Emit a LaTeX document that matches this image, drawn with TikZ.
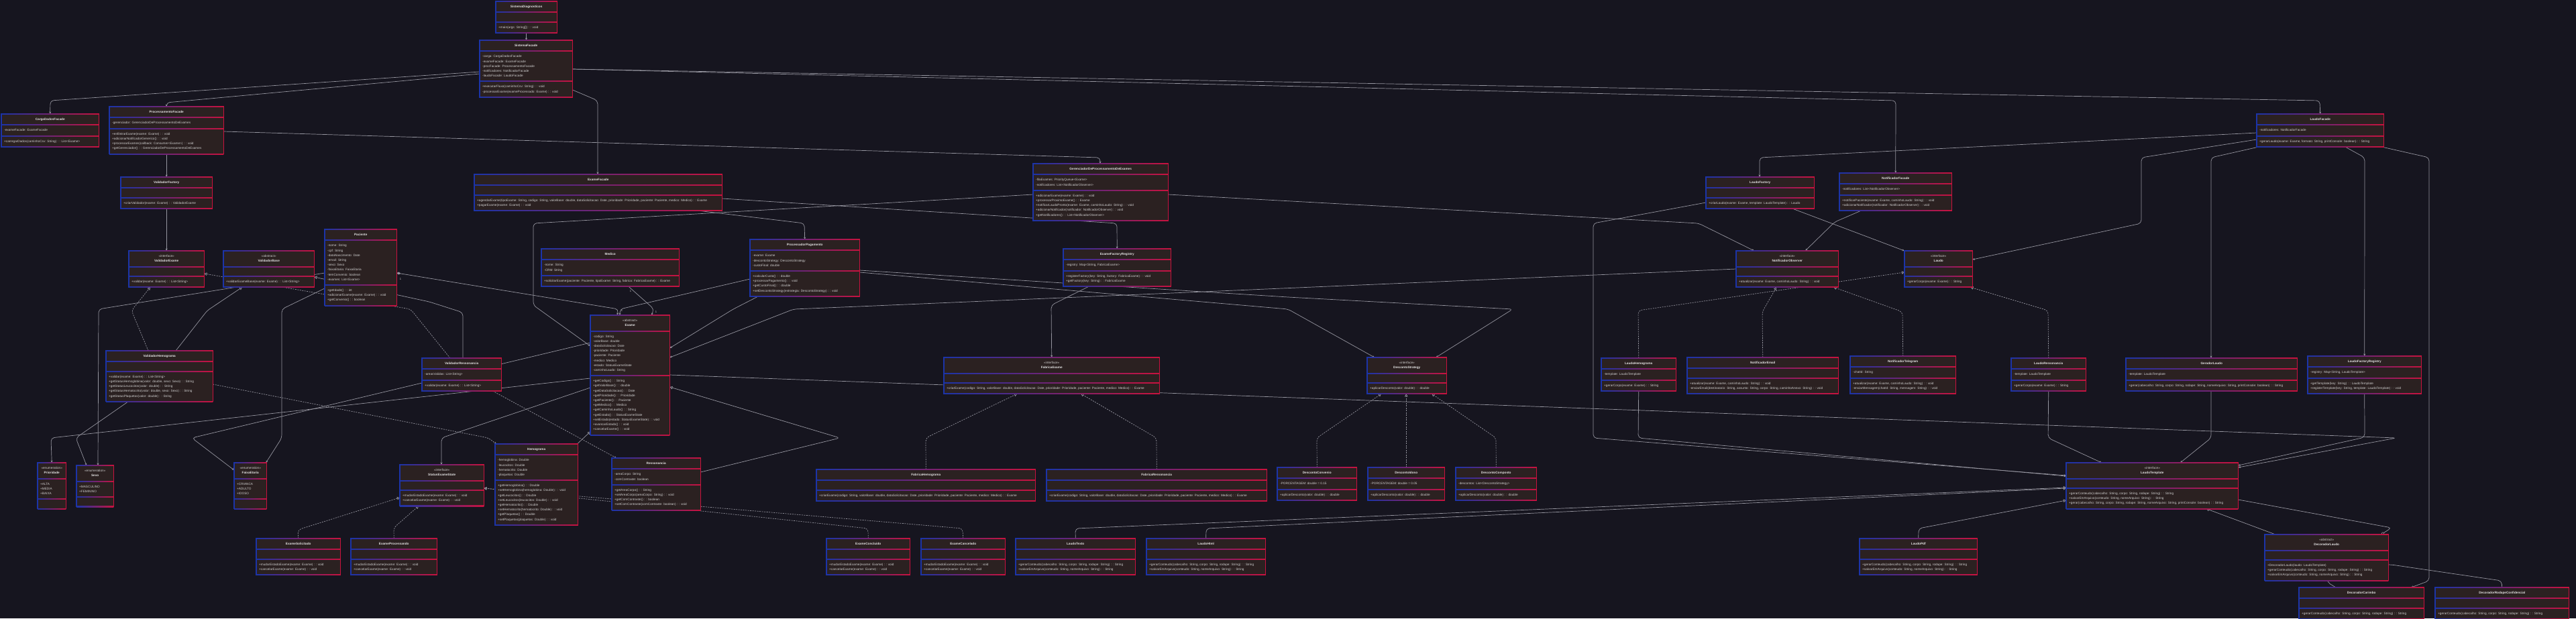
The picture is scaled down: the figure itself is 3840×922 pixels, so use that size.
\documentclass[tikz,border=0pt]{standalone}
\usepackage{fontspec}
\setmainfont{Liberation Sans}
\usetikzlibrary{positioning,arrows.meta,shapes.multipart,backgrounds}
\definecolor{bgc}{RGB}{22,21,31}
\definecolor{boxc}{RGB}{43,33,33}
\definecolor{bordl}{RGB}{28,52,168}
\definecolor{bordr}{RGB}{200,18,62}
\definecolor{titlec}{RGB}{228,228,228}
\definecolor{memc}{RGB}{206,206,206}
\definecolor{edgec}{RGB}{150,150,160}
\newcommand{\clsfont}{\fontsize{4.7}{7.2}\selectfont}
\newcommand{\ctitle}[1]{\strut\textcolor{titlec}{\textbf{#1}}}
\newcommand{\cstereo}[2]{\begin{tabular}{@{}c@{}}«#1»\\\textcolor{titlec}{\textbf{#2}}\end{tabular}}
\tikzset{
  cls/.style={rectangle split, rectangle split parts=3,
    rectangle split part align={center,left,left}, align=left,
    fill=boxc, text=memc, font=\clsfont, anchor=north west,
    inner xsep=4pt, inner ysep=4.3pt},
  link/.style={draw=edgec, line width=0.7pt, rounded corners=5pt},
  assoc/.style={link, -{Stealth[length=3.5pt,width=3pt]}},
  dep/.style={assoc, dash pattern=on 2pt off 1.5pt},
  real/.style={link, dash pattern=on 2pt off 1.5pt, -{Triangle[open,length=4pt,width=4.5pt]}},
  inh/.style={link, -{Triangle[open,length=4pt,width=4.5pt]}},
  mult/.style={font=\fontsize{4}{5}\selectfont, text=memc, inner sep=0pt}
}

\begin{document}
\begin{tikzpicture}[x=1pt,y=-1pt]
\useasboundingbox (0,0) rectangle (3840,922);

% top rows
\node[cls, minimum width=91pt] (sisDiag) at (739,2) {\ctitle{SistemaDiagnosticos}\nodepart{two}\nodepart{three}\strut +main(args: String[]) : : void};
\node[cls, minimum width=138pt] (sisFacade) at (715,60) {\ctitle{SistemaFacade}\nodepart{two}\strut -carga: CargaDadosFacade\\\strut -exameFacade: ExameFacade\\\strut -procFacade: ProcessamentoFacade\\\strut -notificadores: NotificadorFacade\\\strut -laudoFacade: LaudoFacade\nodepart{three}\strut +executarFluxo(caminhoCsv: String) : : void\\\strut -processarExame(exameProcessado: Exame) : : void};
\node[cls, minimum width=145pt] (carga) at (2,170) {\ctitle{CargaDadosFacade}\nodepart{two}\strut -exameFacade: ExameFacade\nodepart{three}\strut +carregarDados(caminhoCsv: String) : : List<Exame>};
\node[cls, minimum width=170pt] (procFacade) at (163,159) {\ctitle{ProcessamentoFacade}\nodepart{two}\strut -gerenciador: GerenciadorDeProcessamentoDeExames\nodepart{three}\strut +enfileirarExame(exame: Exame) : : void\\\strut +adicionarNotificadorGenerico() : : void\\\strut +processarExames(callback: Consumer<Exame>) : : void\\\strut +getGerenciador() : : GerenciadorDeProcessamentoDeExames};
\node[cls, minimum width=136pt] (valFactory) at (180,264) {\ctitle{ValidadorFactory}\nodepart{two}\nodepart{three}\strut +criarValidador(exame: Exame) : : ValidadorExame};
\node[cls, minimum width=112pt] (valExame) at (192,374) {\cstereo{interface}{ValidadorExame}\nodepart{two}\nodepart{three}\strut +validar(exame: Exame) : : List<String>};
\node[cls, minimum width=135pt] (valBase) at (333,374) {\cstereo{abstract}{ValidadorBase}\nodepart{two}\nodepart{three}\strut +validarExameBase(exame: Exame) : : List<String>};
\node[cls, minimum width=107pt] (paciente) at (484,342) {\ctitle{Paciente}\nodepart{two}\strut -nome: String\\\strut -cpf: String\\\strut -dataNascimento: Date\\\strut -email: String\\\strut -sexo: Sexo\\\strut -faixaEtaria: FaixaEtaria\\\strut -temConvenio: boolean\\\strut -exames: List<Exame>\nodepart{three}\strut +getIdade() : : int\\\strut +adicionarExame(exame: Exame) : : void\\\strut +getConvenio() : : boolean};
\node[cls, minimum width=369pt] (exameFacade) at (707,260) {\ctitle{ExameFacade}\nodepart{two}\nodepart{three}\strut +agendarExame(tipoExame: String, codigo: String, valorBase: double, dataSolicitacao: Date, prioridade: Prioridade, paciente: Paciente, medico: Medico) : : Exame\\\strut +pagarExame(exame: Exame) : : void};
\node[cls, minimum width=205pt] (medico) at (807,371) {\ctitle{Medico}\nodepart{two}\strut -nome: String\\\strut -CRM: String\nodepart{three}\strut +solicitarExame(paciente: Paciente, tipoExame: String, fabrica: FabricaExame) : : Exame};
\node[cls, minimum width=163pt] (procPag) at (1118,357) {\ctitle{ProcessadorPagamento}\nodepart{two}\strut -exame: Exame\\\strut -descontoStrategy: DescontoStrategy\\\strut -custoFinal: double\nodepart{three}\strut +calcularCusto() : : double\\\strut +processarPagamento() : : void\\\strut +getCustoFinal() : : double\\\strut +setDescontoStrategy(estrategia: DescontoStrategy) : : void};
\node[cls, minimum width=201pt] (gerenc) at (1540,244) {\ctitle{GerenciadorDeProcessamentoDeExames}\nodepart{two}\strut -filaExames: PriorityQueue<Exame>\\\strut -notificadores: List<NotificadorObserver>\nodepart{three}\strut +adicionarExame(exame: Exame) : : void\\\strut +processarProximoExame() : : Exame\\\strut +notificarLaudoPronto(exame: Exame, caminhoLaudo: String) : : void\\\strut +adicionarNotificador(notificador: NotificadorObserver) : : void\\\strut +getNotificadores() : : List<NotificadorObserver>};
\node[cls, minimum width=160pt] (exameFReg) at (1585,371) {\ctitle{ExameFactoryRegistry}\nodepart{two}\strut -registry: Map<String, FabricaExame>\nodepart{three}\strut +registerFactory(key: String, factory: FabricaExame) : : void\\\strut +getFactory(key: String) : : FabricaExame};
\node[cls, minimum width=161pt] (laudoFactory) at (2543,264) {\ctitle{LaudoFactory}\nodepart{two}\nodepart{three}\strut +criarLaudo(exame: Exame, template: LaudoTemplate) : : Laudo};
\node[cls, minimum width=167pt] (notifFacade) at (2742,258) {\ctitle{NotificadorFacade}\nodepart{two}\strut -notificadores: List<NotificadorObserver>\nodepart{three}\strut +notificarPaciente(exame: Exame, caminhoLaudo: String) : : void\\\strut +adicionarNotificador(notificador: NotificadorObserver) : : void};
\node[cls, minimum width=152pt] (notifObs) at (2588,374) {\cstereo{interface}{NotificadorObserver}\nodepart{two}\nodepart{three}\strut +atualizar(exame: Exame, caminhoLaudo: String) : : void};
\node[cls, minimum width=101pt] (laudo) at (2839,374) {\cstereo{interface}{Laudo}\nodepart{two}\nodepart{three}\strut +gerarCorpo(exame: Exame) : : String};
\node[cls, minimum width=189pt] (laudoFacade) at (3364,170) {\ctitle{LaudoFacade}\nodepart{two}\strut -notificadores: NotificadorFacade\nodepart{three}\strut +gerarLaudo(exame: Exame, formato: String, printConsole: boolean) : : String};

% middle row
\node[cls, minimum width=159pt] (valHemo) at (158,523) {\ctitle{ValidadorHemograma}\nodepart{two}\nodepart{three}\strut +validar(exame: Exame) : : List<String>\\\strut +getStatusHemoglobina(valor: double, sexo: Sexo) : : String\\\strut +getStatusLeucocitos(valor: double) : : String\\\strut +getStatusHematocrito(valor: double, sexo: Sexo) : : String\\\strut +getStatusPlaquetas(valor: double) : : String};
\node[cls, minimum width=118pt] (valResso) at (629,534) {\ctitle{ValidadorRessonancia}\nodepart{two}\strut -areasValidas: List<String>\nodepart{three}\strut +validar(exame: Exame) : : List<String>};
\node[cls, minimum width=118pt] (exame) at (880,470) {\cstereo{abstract}{Exame}\nodepart{two}\strut -codigo: String\\\strut -valorBase: double\\\strut -dataSolicitacao: Date\\\strut -prioridade: Prioridade\\\strut -paciente: Paciente\\\strut -medico: Medico\\\strut -estado: StatusExameState\\\strut -caminhoLaudo: String\nodepart{three}\strut +getCodigo() : : String\\\strut +getValorBase() : : double\\\strut +getDataSolicitacao() : : Date\\\strut +getPrioridade() : : Prioridade\\\strut +getPaciente() : : Paciente\\\strut +getMedico() : : Medico\\\strut +getCaminhoLaudo() : : String\\\strut +getEstado() : : StatusExameState\\\strut +setEstado(estado: StatusExameState) : : void\\\strut +avancarEstado() : : void\\\strut +cancelarExame() : : void};
\node[cls, minimum width=321pt] (fabExame) at (1407,533) {\cstereo{interface}{FabricaExame}\nodepart{two}\nodepart{three}\strut +criarExame(codigo: String, valorBase: double, dataSolicitacao: Date, prioridade: Prioridade, paciente: Paciente, medico: Medico) : : Exame};
\node[cls, minimum width=118pt] (descStrat) at (2038,533) {\cstereo{interface}{DescontoStrategy}\nodepart{two}\nodepart{three}\strut +aplicarDesconto(valor: double) : : double};
\node[cls, minimum width=111pt] (laudoHemo) at (2387,534) {\ctitle{LaudoHemograma}\nodepart{two}\strut -template: LaudoTemplate\nodepart{three}\strut +gerarCorpo(exame: Exame) : : String};
\node[cls, minimum width=225pt] (notifEmail) at (2515,533) {\ctitle{NotificadorEmail}\nodepart{two}\nodepart{three}\strut +atualizar(exame: Exame, caminhoLaudo: String) : : void\\\strut -enviarEmail(destinatario: String, assunto: String, corpo: String, caminhoAnexo: String) : : void};
\node[cls, minimum width=157pt] (notifTele) at (2758,531) {\ctitle{NotificadorTelegram}\nodepart{two}\strut -chatId: String\nodepart{three}\strut +atualizar(exame: Exame, caminhoLaudo: String) : : void\\\strut -enviarMensagem(chatId: String, mensagem: String) : : void};
\node[cls, minimum width=111pt] (laudoResso) at (2998,534) {\ctitle{LaudoRessonancia}\nodepart{two}\strut -template: LaudoTemplate\nodepart{three}\strut +gerarCorpo(exame: Exame) : : String};
\node[cls, minimum width=255pt] (geradorLaudo) at (3169,534) {\ctitle{GeradorLaudo}\nodepart{two}\strut -template: LaudoTemplate\nodepart{three}\strut +gerar(cabecalho: String, corpo: String, rodape: String, nomeArquivo: String, printConsole: boolean) : : String};
\node[cls, minimum width=169pt] (laudoFReg) at (3440,531) {\ctitle{LaudoFactoryRegistry}\nodepart{two}\strut -registry: Map<String, LaudoTemplate>\nodepart{three}\strut +getTemplate(key: String) : : LaudoTemplate\\\strut +registerTemplate(key: String, template: LaudoTemplate) : : void};

% lower rows
\node[cls, minimum width=42pt] (prioridade) at (56,690) {\cstereo{enumeration}{Prioridade}\nodepart{two}\strut +ALTA\\\strut +MEDIA\\\strut +BAIXA\nodepart{three}};
\node[cls, minimum width=55pt] (sexo) at (114,694) {\cstereo{enumeration}{Sexo}\nodepart{two}\strut +MASCULINO\\\strut +FEMININO\nodepart{three}};
\node[cls, minimum width=48pt] (faixa) at (349,690) {\cstereo{enumeration}{FaixaEtaria}\nodepart{two}\strut +CRIANCA\\\strut +ADULTO\\\strut +IDOSO\nodepart{three}};
\node[cls, minimum width=125pt] (statusES) at (596,693) {\cstereo{interface}{StatusExameState}\nodepart{two}\nodepart{three}\strut +mudarEstadoExame(exame: Exame) : : void\\\strut +cancelarExame(exame: Exame) : : void};
\node[cls, minimum width=123pt] (hemograma) at (738,662) {\ctitle{Hemograma}\nodepart{two}\strut -hemoglobina: Double\\\strut -leucocitos: Double\\\strut -hematocrito: Double\\\strut -plaquetas: Double\nodepart{three}\strut +getHemoglobina() : : Double\\\strut +setHemoglobina(hemoglobina: Double) : : void\\\strut +getLeucocitos() : : Double\\\strut +setLeucocitos(leucocitos: Double) : : void\\\strut +getHematocrito() : : Double\\\strut +setHematocrito(hematocrito: Double) : : void\\\strut +getPlaquetas() : : Double\\\strut +setPlaquetas(plaquetas: Double) : : void};
\node[cls, minimum width=132pt] (ressonancia) at (912,683) {\ctitle{Ressonancia}\nodepart{two}\strut -areaCorpo: String\\\strut -comContraste: boolean\nodepart{three}\strut +getAreaCorpo() : : String\\\strut +setAreaCorpo(areaCorpo: String) : : void\\\strut +getComContraste() : : boolean\\\strut +setComContraste(comContraste: boolean) : : void};
\node[cls, minimum width=326pt] (fabHemo) at (1217,700) {\ctitle{FabricaHemograma}\nodepart{two}\nodepart{three}\strut +criarExame(codigo: String, valorBase: double, dataSolicitacao: Date, prioridade: Prioridade, paciente: Paciente, medico: Medico) : : Exame};
\node[cls, minimum width=328pt] (fabResso) at (1560,700) {\ctitle{FabricaRessonancia}\nodepart{two}\nodepart{three}\strut +criarExame(codigo: String, valorBase: double, dataSolicitacao: Date, prioridade: Prioridade, paciente: Paciente, medico: Medico) : : Exame};
\node[cls, minimum width=118pt] (descConv) at (1904,697) {\ctitle{DescontoConvenio}\nodepart{two}\strut -PORCENTAGEM: double = 0.15\nodepart{three}\strut +aplicarDesconto(valor: double) : : double};
\node[cls, minimum width=114pt] (descIdoso) at (2039,697) {\ctitle{DescontoIdoso}\nodepart{two}\strut -PORCENTAGEM: double = 0.05\nodepart{three}\strut +aplicarDesconto(valor: double) : : double};
\node[cls, minimum width=120pt] (descComp) at (2170,697) {\ctitle{DescontoComposto}\nodepart{two}\strut -descontos: List<DescontoStrategy>\nodepart{three}\strut +aplicarDesconto(valor: double) : : double};
\node[cls, minimum width=256pt] (laudoTemplate) at (3080,690) {\cstereo{interface}{LaudoTemplate}\nodepart{two}\nodepart{three}\strut +gerarConteudo(cabecalho: String, corpo: String, rodape: String) : : String\\\strut +salvarEmArquivo(conteudo: String, nomeArquivo: String) : : String\\\strut +gerar(cabecalho: String, corpo: String, rodape: String, nomeArquivo: String, printConsole: boolean) : : String};
\node[cls, minimum width=125pt] (exSolic) at (382,803) {\ctitle{ExameSolicitado}\nodepart{two}\nodepart{three}\strut +mudarEstadoExame(exame: Exame) : : void\\\strut +cancelarExame(exame: Exame) : : void};
\node[cls, minimum width=128pt] (exProc) at (523,803) {\ctitle{ExameProcessando}\nodepart{two}\nodepart{three}\strut +mudarEstadoExame(exame: Exame) : : void\\\strut +cancelarExame(exame: Exame) : : void};
\node[cls, minimum width=124pt] (exConcl) at (1232,803) {\ctitle{ExameConcluido}\nodepart{two}\nodepart{three}\strut +mudarEstadoExame(exame: Exame) : : void\\\strut +cancelarExame(exame: Exame) : : void};
\node[cls, minimum width=125pt] (exCanc) at (1373,803) {\ctitle{ExameCancelado}\nodepart{two}\nodepart{three}\strut +mudarEstadoExame(exame: Exame) : : void\\\strut +cancelarExame(exame: Exame) : : void};
\node[cls, minimum width=178pt] (laudoTexto) at (1514,803) {\ctitle{LaudoTexto}\nodepart{two}\nodepart{three}\strut +gerarConteudo(cabecalho: String, corpo: String, rodape: String) : : String\\\strut +salvarEmArquivo(conteudo: String, nomeArquivo: String) : : String};
\node[cls, minimum width=177pt] (laudoHtml) at (1709,803) {\ctitle{LaudoHtml}\nodepart{two}\nodepart{three}\strut +gerarConteudo(cabecalho: String, corpo: String, rodape: String) : : String\\\strut +salvarEmArquivo(conteudo: String, nomeArquivo: String) : : String};
\node[cls, minimum width=175pt] (laudoPdf) at (2772,803) {\ctitle{LaudoPdf}\nodepart{two}\nodepart{three}\strut +gerarConteudo(cabecalho: String, corpo: String, rodape: String) : : String\\\strut +salvarEmArquivo(conteudo: String, nomeArquivo: String) : : String};
\node[cls, minimum width=184pt] (decLaudo) at (3376,797) {\cstereo{abstract}{DecoradorLaudo}\nodepart{two}\nodepart{three}\strut +DecoradorLaudo(laudo: LaudoTemplate)\\\strut +gerarConteudo(cabecalho: String, corpo: String, rodape: String) : : String\\\strut +salvarEmArquivo(conteudo: String, nomeArquivo: String) : : String};
\node[cls, minimum width=186pt] (decCarimbo) at (3427,876) {\ctitle{DecoradorCarimbo}\nodepart{two}\nodepart{three}\strut +gerarConteudo(cabecalho: String, corpo: String, rodape: String) : : String};
\node[cls, minimum width=199pt] (decRodape) at (3630,876) {\ctitle{DecoradorRodapeConfidencial}\nodepart{two}\nodepart{three}\strut +gerarConteudo(cabecalho: String, corpo: String, rodape: String) : : String};

% gradient borders
\foreach \n in {sisDiag,sisFacade,carga,procFacade,valFactory,valExame,valBase,paciente,exameFacade,medico,procPag,gerenc,exameFReg,laudoFactory,notifFacade,notifObs,laudo,laudoFacade,valHemo,valResso,exame,fabExame,descStrat,laudoHemo,notifEmail,notifTele,laudoResso,geradorLaudo,laudoFReg,prioridade,sexo,faixa,statusES,hemograma,ressonancia,fabHemo,fabResso,descConv,descIdoso,descComp,laudoTemplate,exSolic,exProc,exConcl,exCanc,laudoTexto,laudoHtml,laudoPdf,decLaudo,decCarimbo,decRodape}{
  \fill[bordl] ([xshift=-0.6pt,yshift=0.6pt]\n.north west) rectangle ([xshift=0.6pt,yshift=-0.6pt]\n.south west);
  \fill[bordr] ([xshift=-0.6pt,yshift=0.6pt]\n.north east) rectangle ([xshift=0.6pt,yshift=-0.6pt]\n.south east);
  \shade[left color=bordl,right color=bordr] ([yshift=0.6pt]\n.north west) rectangle ([yshift=-0.6pt]\n.north east);
  \shade[left color=bordl,right color=bordr] ([yshift=0.6pt]\n.south west) rectangle ([yshift=-0.6pt]\n.south east);
  \shade[left color=bordl,right color=bordr] ([yshift=0.5pt]\n.text split west) rectangle ([yshift=-0.5pt]\n.text split east);
  \shade[left color=bordl,right color=bordr] ([yshift=0.5pt]\n.two split west) rectangle ([yshift=-0.5pt]\n.two split east);
}

% multiplicities
\node[mult] (mPac) at (597,416) {1};
\node[mult] (mExA) at (927,463) {1};
\node[mult] (mMed) at (940,434) {1};
\node[mult] (mExB) at (978,465) {1};

\begin{scope}[on background layer]
\fill[bgc] (0,0) rectangle (3840,922);
% facades
\draw[assoc] (sisDiag) -- (sisFacade);
\draw[assoc] ([yshift=-47pt]sisFacade.north west) -- (75,150) -- (carga.north);
\draw[assoc] ([yshift=-50pt]sisFacade.north west) -- (248,153) -- (procFacade.north);
\draw[assoc] ([yshift=-74pt]sisFacade.north east) -- (891,150) -- ([xshift=184pt]exameFacade.north west);
\draw[assoc] ([yshift=-43pt]sisFacade.north east) -- (2826,150) -- (notifFacade.north);
\draw[assoc] ([yshift=-43pt]sisFacade.north east) -- (3458,150) -- (laudoFacade.north);
\draw[assoc] ([yshift=-37pt]procFacade.north east) -- (1640,235) -- ([xshift=100pt]gerenc.north west);
\draw[assoc] (procFacade) -- (valFactory);
\draw[assoc] (valFactory) -- (valExame);
\draw[assoc] ([yshift=-36pt]exameFacade.north east) -- (1665,333) -- (exameFReg.north);
\draw[assoc] ([xshift=335pt]exameFacade.south west) -- (1199,333) -- (procPag.north);
\draw[assoc] ([yshift=-46pt]gerenc.north west) -- (795,333) -- (795,455) -- ([yshift=-46pt]exame.north west);
\draw[assoc] ([yshift=-46pt]gerenc.north east) -- (2532,333) -- ([xshift=27pt]notifObs.north west);
\draw[assoc] ([xshift=32pt]notifFacade.south west) -- (2735,331) -- ([xshift=103pt]notifObs.north west);
% laudos
\draw[assoc] ([xshift=129pt]laudoFactory.south west) -- (laudo.north west);
\draw[assoc] ([yshift=-28pt]laudoFacade.north west) -- (2623,235) -- ([xshift=80pt]laudoFactory.north west);
\draw[assoc] ([yshift=-38pt]laudoFacade.north west) -- (3192,235) -- (3192,333) -- ([yshift=-13pt]laudo.north east);
\draw[assoc] ([xshift=3pt]laudoFacade.south west) -- (3296,235) -- ([xshift=127pt]geradorLaudo.north west);
\draw[assoc] ([xshift=132pt]laudoFacade.south west) -- (3525,235) -- (laudoFReg.north);
\draw[assoc] ([xshift=-3pt]laudoFacade.south east) -- (3621,235) -- (3621,866) -- ([xshift=167pt]decCarimbo.north west);
\draw[assoc] ([xshift=127pt]geradorLaudo.south west) -- (3296,653) -- ([xshift=170pt]laudoTemplate.north west);
\draw[assoc] (laudoFReg.south) -- (3525,652) -- ([yshift=-4pt]laudoTemplate.north east);
\draw[assoc] ([yshift=-89pt]exame.north east) -- (3572,653) -- ([yshift=-7pt]laudoTemplate.north east);
\draw[inh] ([xshift=16pt]decLaudo.north west) -- ([xshift=209pt]laudoTemplate.south west);
\draw[link, {Diamond[open,length=6pt,width=4pt]}-] ([xshift=-11pt]decLaudo.north east) -- (3565,787) -- ([yshift=-55pt]laudoTemplate.north east);
\draw[inh] ([xshift=55pt]decCarimbo.north west) -- (3469,868) -- ([xshift=93pt]decLaudo.south west);
\draw[inh] (decRodape.north) -- (3729,866) -- (3565,842) -- ([yshift=-45pt]decLaudo.north east);
\draw[inh] (laudoTexto.north) -- (1603,788) -- ([yshift=-37pt]laudoTemplate.north west);
\draw[inh] (laudoHtml.north) -- (1798,788) -- ([yshift=-38pt]laudoTemplate.north west);
\draw[inh] (laudoPdf.north) -- (2860,788) -- ([yshift=-56pt]laudoTemplate.north west);
\draw[assoc] ([yshift=-38pt]laudoFactory.north west) -- (2375,333) -- (2375,653) -- ([yshift=-19pt]laudoTemplate.north west);
\draw[assoc] (laudoHemo.south) -- (2442,653) -- ([yshift=-20pt]laudoTemplate.north west);
\draw[assoc] (laudoResso.south) -- (3053,653) -- ([xshift=53pt]laudoTemplate.north west);
\draw[real] (laudoHemo.north) -- (2442,463) -- ([yshift=-32pt]laudo.north west);
\draw[real] (laudoResso.north) -- (3053,463) -- ([xshift=-3pt]laudo.south east);
\draw[real] (notifEmail.north) -- (2627,465) -- ([xshift=60pt]notifObs.south west);
\draw[real] (notifTele.north) -- (2836,465) -- ([xshift=-7pt]notifObs.south east);
\draw[assoc] ([yshift=-27pt]notifObs.north west) -- (1280,457) -- (1183,461) -- ([yshift=-63pt]exame.north east);
% pagamento
\draw[assoc] ([xshift=12pt]procPag.south west) -- (1093,461) -- ([yshift=-49pt]exame.north east);
\draw[assoc] ([yshift=-46pt]procPag.north east) -- (1920,443) -- (2255,461) -- ([xshift=-16pt]descStrat.north east);
\draw[assoc] ([yshift=-49pt]procPag.north east) -- (1920,461) -- ([xshift=11pt]descStrat.north west);
\draw[real] (descConv.north) -- (1963,653) -- ([xshift=21pt]descStrat.south west);
\draw[real] (descIdoso.north) -- (descIdoso.north |- descStrat.south);
\draw[real] (descComp.north) -- (2230,653) -- ([xshift=-22pt]descStrat.south east);
% fabricas
\draw[real] (fabHemo.north) -- (1380,653) -- ([xshift=109pt]fabExame.south west);
\draw[real] (fabResso.north) -- (1724,653) -- ([xshift=-117pt]fabExame.south east);
\draw[assoc] ([xshift=38pt]exameFReg.south west) -- (1567,455) -- (fabExame.north);
% estados
\draw[real] (exSolic.north) -- (444,790) -- ([yshift=-49pt]statusES.north west);
\draw[real] (exProc.north) -- (587,787) -- ([xshift=28pt]statusES.south west);
\draw[real] (exConcl.north) -- (1294,788) -- ([yshift=-35pt]statusES.north east);
\draw[real] (exCanc.north) -- (1435,788) -- ([yshift=-35pt]statusES.north east);
% exames e validadores
\draw[inh] ([xshift=-1pt]hemograma.north east) -- ([yshift=5pt]exame.south west);
\draw[inh] ([yshift=-21pt]ressonancia.north east) -- (1252,653) -- ([yshift=-107pt]exame.north east);
\draw[dep] ([xshift=-13pt]valResso.south east) -- ([xshift=7pt]ressonancia.north west);
\draw[dep] ([yshift=-50pt]valHemo.north east) -- (728,653) -- ([xshift=2pt]hemograma.north west);
\draw[real] ([xshift=63pt]valHemo.north west) -- (196,463) -- ([xshift=32pt]valExame.south west);
\draw[inh] ([xshift=104pt]valHemo.north west) -- (309,463) -- ([xshift=28pt]valBase.south west);
\draw[inh] ([xshift=61pt]valResso.north west) -- (690,466) -- (640,450) -- ([yshift=-39pt]valBase.north east);
\draw[real] ([xshift=42pt]valResso.north west) -- (612,461) -- ([yshift=-34pt]valExame.north east);
\draw[assoc] ([yshift=-65pt]paciente.north west) -- (147,461) -- ([xshift=32pt]sexo.north west);
\draw[assoc] ([xshift=33pt]valHemo.south west) -- (113,653) -- ([xshift=15pt]sexo.north west);
\draw[assoc] ([yshift=-88pt]paciente.north west) -- (420,461) -- (420,653) -- ([xshift=-1pt]faixa.north east);
\draw[assoc] ([yshift=-94pt]exame.north west) -- (76,653) -- (prioridade.north);
\draw[assoc] ([yshift=-108pt]exame.north west) -- (658,653) -- ([xshift=62pt]statusES.north west);
\draw[assoc] ([yshift=-41pt]exame.north west) -- (286,653) -- ([yshift=-11pt]faixa.north west);
\draw[link, {Diamond[length=6pt,width=4pt]}-{Stealth[length=3.5pt,width=3pt]}] ([yshift=-65pt]paciente.north east) -- (922,461) -- ([xshift=40pt]exame.north west);
\draw[assoc] ([yshift=-59pt]procPag.north west) -- (924,461) -- ([xshift=44pt]exame.north west);
\draw[assoc] ([xshift=130pt]medico.south west) -- (975,461) -- ([xshift=91pt]exame.north west);
\end{scope}
\end{tikzpicture}
\end{document}
